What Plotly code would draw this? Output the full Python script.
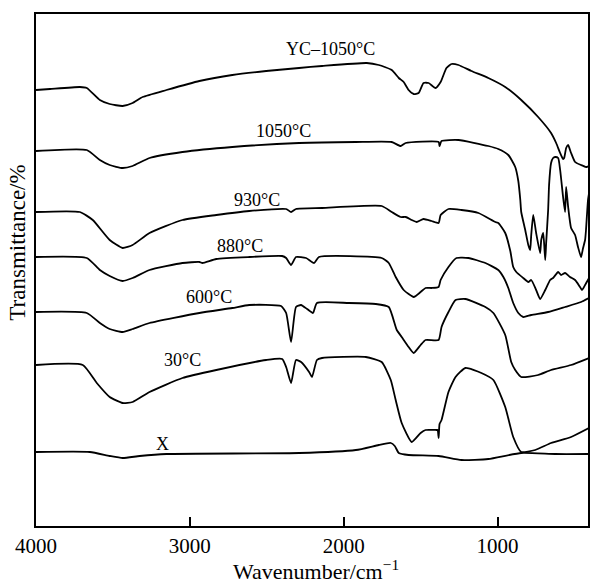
import plotly.graph_objects as go

# FTIR spectra, stacked with vertical offsets (arbitrary transmittance units)
wn_yc1050 = [4000, 3909, 3715, 3670, 3585, 3521, 3437, 3372, 3307, 3152, 2938, 2724, 2504, 2290,
             2141, 1850, 1772, 1688, 1642, 1610, 1578, 1545, 1513, 1481, 1448, 1403, 1370, 1332,
             1299, 1254, 1170, 1060, 950, 846, 736, 652, 619, 593, 574, 567, 554, 541, 522, 496,
             457, 425, 405]
t_yc1050 = [436, 437, 439, 438, 426, 422, 420, 423, 429, 436, 445, 451, 455, 458,
            460, 463, 461, 456, 448, 444, 436, 432, 433, 443, 443, 438, 444, 458,
            462, 461, 455, 448, 439, 426, 409, 393, 383, 373, 367, 368, 378, 381, 373, 364,
            361, 359, 360]

wn_1050 = [4000, 3670, 3585, 3521, 3437, 3372, 3262, 3048, 2724, 2290, 1921, 1688, 1630, 1597,
           1383, 1377, 1364, 1254, 1060, 995, 930, 885, 865, 852, 846, 820, 800, 788, 781, 768,
           749, 723, 716, 703, 690, 684, 671, 665, 652, 639, 626, 606, 593, 574, 561, 554, 541,
           522, 496, 477, 457, 444, 431, 425, 412, 405]
t_1050 = [375, 376, 366, 361, 358, 360, 368, 374, 379, 383, 384, 384, 380, 383,
          384, 380, 385, 386, 380, 377, 371, 359, 345, 326, 314, 296, 281, 276, 291, 311,
          293, 273, 286, 293, 266, 283, 316, 341, 363, 368, 369, 368, 356, 329, 314, 339, 319,
          298, 291, 279, 269, 278, 286, 296, 326, 333]

wn_930 = [4000, 3715, 3631, 3521, 3437, 3372, 3262, 3048, 2828, 2614, 2374, 2342, 2310, 2141,
          1753, 1688, 1630, 1597, 1558, 1526, 1481, 1429, 1383, 1370, 1319, 1234, 1124, 1014,
          995, 950, 917, 898, 878, 833, 800, 781, 749, 723, 690, 658, 639, 606, 587, 561, 529,
          496, 464, 451, 431, 405]
t_930 = [314, 314, 306, 286, 278, 281, 293, 306, 311, 315, 317, 314, 317, 318,
         320, 314, 309, 309, 306, 304, 307, 305, 303, 311, 317, 316, 313, 304,
         303, 293, 275, 259, 254, 248, 244, 246, 236, 227, 236, 246, 248, 254, 251, 253, 249,
         246, 239, 236, 241, 248]

wn_880 = [4000, 3670, 3585, 3521, 3437, 3372, 3262, 3048, 2938, 2918, 2828, 2614, 2400, 2374,
          2342, 2310, 2245, 2193, 2161, 1753, 1707, 1662, 1610, 1545, 1500, 1468, 1429, 1383,
          1370, 1319, 1267, 1189, 1079, 995, 962, 930, 898, 865, 833, 781, 671, 561, 457, 405]
t_880 = [269, 268, 256, 250, 245, 248, 256, 263, 264, 263, 267, 269, 270, 268,
         261, 269, 268, 263, 269, 268, 263, 249, 236, 229, 234, 238, 238, 239,
         246, 259, 268, 268, 263, 256, 249, 238, 223, 213, 209, 211, 214, 219, 224, 228]

wn_600 = [4000, 3670, 3585, 3521, 3437, 3372, 3262, 2938, 2724, 2614, 2407, 2374, 2342, 2310,
          2277, 2238, 2200, 2174, 1966, 1791, 1707, 1655, 1623, 1578, 1545, 1500, 1468, 1383,
          1364, 1319, 1273, 1209, 1079, 1027, 950, 911, 885, 846, 736, 652, 522, 405]
t_600 = [214, 213, 203, 197, 194, 197, 203, 213, 218, 221, 220, 213, 184, 219,
         221, 217, 213, 223, 223, 222, 219, 196, 189, 179, 173, 181, 186, 186,
         199, 214, 226, 227, 219, 213, 191, 164, 156, 149, 151, 156, 161, 168]

wn_30 = [4000, 3696, 3605, 3521, 3437, 3372, 3262, 3048, 2828, 2504, 2400, 2374, 2342, 2310,
         2277, 2225, 2206, 2174, 2141, 1856, 1753, 1694, 1662, 1623, 1558, 1500, 1468, 1396,
         1389, 1383, 1377, 1364, 1319, 1273, 1209, 1105, 1027, 950, 898, 846, 755, 652, 522, 405]
t_30 = [161, 161, 143, 129, 123, 124, 134, 148, 156, 166, 167, 159, 143, 166,
        164, 154, 149, 166, 168, 169, 164, 146, 126, 103, 84, 93, 96, 96,
        96, 88, 102, 106, 134, 149, 158, 153, 146, 119, 89, 74, 76, 83, 89, 98]

wn_x = [4000, 3650, 3521, 3437, 3326, 3152, 2290, 1921, 1772, 1694, 1668, 1642, 1578, 1383,
        1234, 1060, 846, 626, 405]
t_x = [74, 74, 70, 68, 70, 72, 73, 76, 81, 83, 80, 73, 71, 70,
       66, 67, 73, 72, 72]

series = [
    (wn_yc1050, t_yc1050),
    (wn_1050, t_1050),
    (wn_930, t_930),
    (wn_880, t_880),
    (wn_600, t_600),
    (wn_30, t_30),
    (wn_x, t_x),
]

# curve labels: (text, wavenumber, transmittance)
label_text = ["YC\u20131050\u00b0C", "1050\u00b0C", "930\u00b0C", "880\u00b0C", "600\u00b0C", "30\u00b0C", "X"]
label_wn = [2089, 2394, 2562, 2672, 2873, 3048, 3177]
label_t = [477, 395, 326, 280, 229, 166, 82]

x_ticks = [4000, 3000, 2000, 1000]

SERIF = "Liberation Serif, Times New Roman, serif"

fig = go.Figure()
for wn, t in series:
    fig.add_trace(go.Scatter(
        x=wn, y=t, mode="lines",
        line=dict(color="black", width=1.8, shape="spline", smoothing=0.5),
        showlegend=False, hoverinfo="skip",
    ))

for txt, xw, yt in zip(label_text, label_wn, label_t):
    fig.add_annotation(x=xw, y=yt, xref="x", yref="y", text=txt, showarrow=False,
                       font=dict(family=SERIF, size=18, color="black"))

# axis titles
fig.add_annotation(x=0.508, xref="paper", y=-0.117, yref="paper", yanchor="bottom",
                   text="Wavenumber/cm<sup>\u22121</sup>", showarrow=False,
                   font=dict(family=SERIF, size=22, color="black"))
fig.add_annotation(x=-0.033, xref="paper", y=0.553, yref="paper", xanchor="center",
                   text="Transmittance/%", textangle=-90, showarrow=False,
                   font=dict(family=SERIF, size=23, color="black"))

fig.update_xaxes(
    range=[4000, 412], tickvals=x_ticks, ticktext=[str(v) for v in x_ticks],
    ticks="inside", ticklen=9, tickwidth=2, tickcolor="black",
    showline=True, linewidth=2, linecolor="black", mirror=True,
    showgrid=False, zeroline=False,
    tickfont=dict(family=SERIF, size=21, color="black"),
)
fig.update_yaxes(
    range=[0, 512], showticklabels=False, ticks="",
    showline=True, linewidth=2, linecolor="black", mirror=True,
    showgrid=False, zeroline=False,
)
fig.update_layout(
    width=591, height=586,
    margin=dict(l=36, r=1, t=14, b=60),
    plot_bgcolor="white", paper_bgcolor="white",
)

fig.write_html("out.html")
